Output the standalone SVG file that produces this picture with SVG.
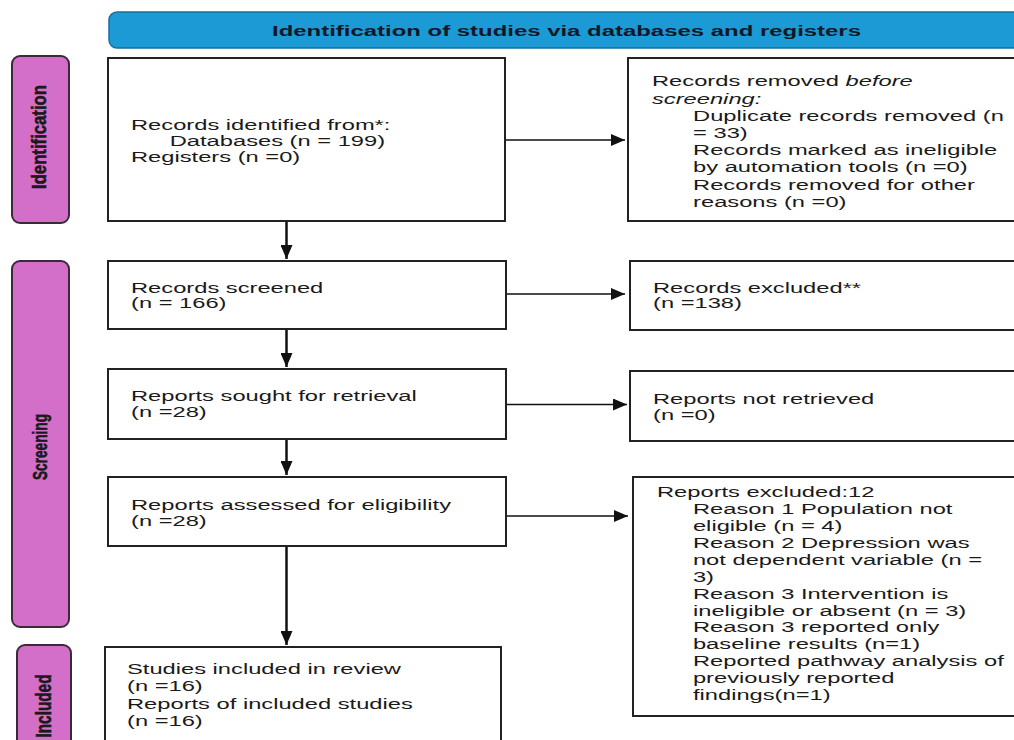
<svg xmlns="http://www.w3.org/2000/svg" width="1014" height="740" viewBox="0 0 1014 740">
<style>
.bg{fill:#ffffff}
.box{fill:#ffffff;stroke:#222222;stroke-width:2}
.side{fill:#D46FC9;stroke:#3a2a3a;stroke-width:2}
.hdr{fill:#1B9AD6;stroke:#1570A0;stroke-width:1.5}
.t{font-family:"Liberation Sans",Arial,sans-serif;font-size:15.3px;fill:#1a1a1a}
.i{font-style:italic}
.h{font-family:"Liberation Sans",Arial,sans-serif;font-size:14.5px;font-weight:bold;fill:#101828}
.s{font-family:"Liberation Sans",Arial,sans-serif;font-weight:bold;fill:#1a1a1a;stroke:#1a1a1a;stroke-width:0.6;text-anchor:middle}
.c{fill:none;stroke:#111111}
.v{stroke-width:2.5}
.hz{stroke-width:1.5}
</style>
<defs>
<marker id="ah" markerUnits="userSpaceOnUse" markerWidth="14" markerHeight="12" refX="14" refY="6" orient="auto">
<path d="M0,0 L14,6 L0,12 z" fill="#111111"/>
</marker>
</defs>
<rect class="bg" x="0" y="0" width="1014" height="740"/>

<g id="header">
<rect class="hdr" x="109" y="12" width="930" height="36" rx="8"/>
<text class="h" x="272" y="36" textLength="589" lengthAdjust="spacingAndGlyphs">Identification of studies via databases and registers</text>
</g>

<g id="label-identification">
<rect class="side" x="12" y="56" width="57" height="167" rx="8"/>
<text class="s" x="46" y="137" font-size="20" transform="rotate(-90 46 137)" textLength="104" lengthAdjust="spacingAndGlyphs">Identification</text>
</g>
<g id="label-screening">
<rect class="side" x="12" y="261" width="57" height="366" rx="8"/>
<text class="s" x="47" y="447" font-size="21" transform="rotate(-90 47 447)" textLength="66" lengthAdjust="spacingAndGlyphs">Screening</text>
</g>
<g id="label-included">
<rect class="side" x="17" y="645" width="54" height="120" rx="8"/>
<text class="s" x="51" y="706" font-size="22" transform="rotate(-90 51 706)" textLength="63" lengthAdjust="spacingAndGlyphs">Included</text>
</g>

<g id="records-identified">
<rect class="box" x="108" y="58" width="397" height="163"/>
<g transform="translate(131 0) scale(1.55 1)">
<text class="t" x="0" y="130.5">Records identified from*:</text>
<text class="t" x="25" y="146.5">Databases (n = 199)</text>
<text class="t" x="0" y="162.5">Registers (n =0)</text>
</g>
</g>

<g id="records-removed">
<rect class="box" x="628" y="58" width="400" height="163"/>
<g transform="translate(652 0) scale(1.55 1)">
<text class="t" x="0" y="86.5">Records removed <tspan class="i">before</tspan></text>
<text class="t i" x="0" y="103.7">screening:</text>
<text class="t" x="26.5" y="121">Duplicate records removed (n</text>
<text class="t" x="26.5" y="138">= 33)</text>
<text class="t" x="26.5" y="155.3">Records marked as ineligible</text>
<text class="t" x="26.5" y="172.5">by automation tools (n =0)</text>
<text class="t" x="26.5" y="189.8">Records removed for other</text>
<text class="t" x="26.5" y="207">reasons (n =0)</text>
</g>
</g>

<g id="records-screened">
<rect class="box" x="108" y="261" width="398" height="68"/>
<g transform="translate(131 0) scale(1.55 1)">
<text class="t" x="0" y="293">Records screened</text>
<text class="t" x="0" y="308.5">(n = 166)</text>
</g>
</g>

<g id="records-excluded">
<rect class="box" x="630" y="261" width="400" height="69"/>
<g transform="translate(653 0) scale(1.55 1)">
<text class="t" x="0" y="292.7">Records excluded**</text>
<text class="t" x="0" y="308.3">(n =138)</text>
</g>
</g>

<g id="reports-sought">
<rect class="box" x="108" y="369" width="398" height="70"/>
<g transform="translate(131 0) scale(1.55 1)">
<text class="t" x="0" y="401">Reports sought for retrieval</text>
<text class="t" x="0" y="417">(n =28)</text>
</g>
</g>

<g id="reports-not-retrieved">
<rect class="box" x="630" y="371" width="400" height="70"/>
<g transform="translate(653 0) scale(1.55 1)">
<text class="t" x="0" y="404">Reports not retrieved</text>
<text class="t" x="0" y="420">(n =0)</text>
</g>
</g>

<g id="reports-assessed">
<rect class="box" x="108" y="477" width="398" height="69"/>
<g transform="translate(131 0) scale(1.55 1)">
<text class="t" x="0" y="510">Reports assessed for eligibility</text>
<text class="t" x="0" y="526">(n =28)</text>
</g>
</g>

<g id="reports-excluded">
<rect class="box" x="633" y="477" width="400" height="239"/>
<g transform="translate(657 0) scale(1.55 1)">
<text class="t" x="0" y="497.3">Reports excluded:12</text>
<text class="t" x="23.2" y="514.2">Reason 1 Population not</text>
<text class="t" x="23.2" y="531.1">eligible (n = 4)</text>
<text class="t" x="23.2" y="548">Reason 2 Depression was</text>
<text class="t" x="23.2" y="564.9">not dependent variable (n =</text>
<text class="t" x="23.2" y="581.8">3)</text>
<text class="t" x="23.2" y="598.7">Reason 3 Intervention is</text>
<text class="t" x="23.2" y="615.6">ineligible or absent (n = 3)</text>
<text class="t" x="23.2" y="632.5">Reason 3 reported only</text>
<text class="t" x="23.2" y="649.4">baseline results (n=1)</text>
<text class="t" x="23.2" y="666.3">Reported pathway analysis of</text>
<text class="t" x="23.2" y="683.2">previously reported</text>
<text class="t" x="23.2" y="700.1">findings(n=1)</text>
</g>
</g>

<g id="studies-included">
<rect class="box" x="105" y="647" width="396" height="120"/>
<g transform="translate(127 0) scale(1.55 1)">
<text class="t" x="0" y="674.3">Studies included in review</text>
<text class="t" x="0" y="691.5">(n =16)</text>
<text class="t" x="0" y="709">Reports of included studies</text>
<text class="t" x="0" y="726.5">(n =16)</text>
</g>
</g>

<g id="connectors">
<line class="c v" x1="286.5" y1="222" x2="286.5" y2="259" marker-end="url(#ah)"/>
<line class="c v" x1="286.5" y1="330" x2="286.5" y2="367" marker-end="url(#ah)"/>
<line class="c v" x1="286.5" y1="440" x2="286.5" y2="475" marker-end="url(#ah)"/>
<line class="c v" x1="286.5" y1="547" x2="286.5" y2="645" marker-end="url(#ah)"/>
<line class="c hz" x1="506" y1="140" x2="625" y2="140" marker-end="url(#ah)"/>
<line class="c hz" x1="507" y1="294" x2="625" y2="294" marker-end="url(#ah)"/>
<line class="c hz" x1="507" y1="404.5" x2="627" y2="404.5" marker-end="url(#ah)"/>
<line class="c hz" x1="507" y1="516" x2="628" y2="516" marker-end="url(#ah)"/>
</g>
</svg>
